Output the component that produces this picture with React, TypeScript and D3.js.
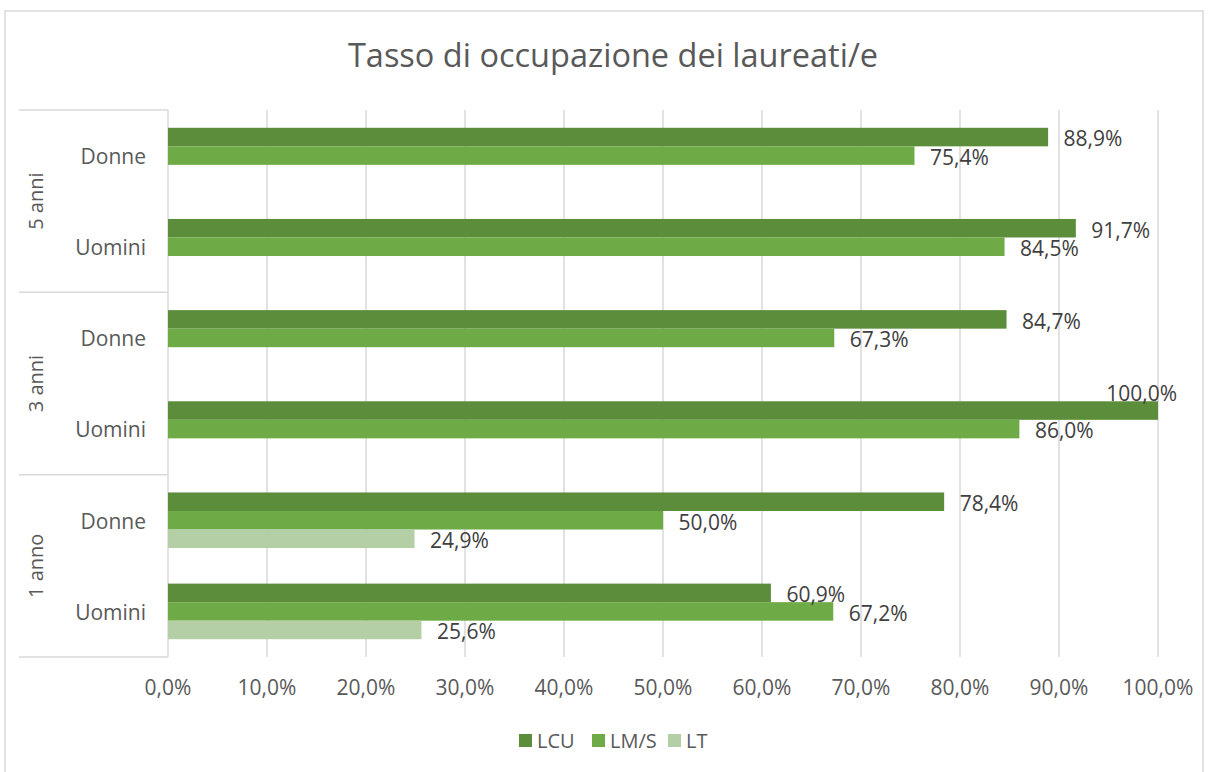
import { useMemo } from "react";
import * as d3 from "d3";

// chart data (percent values)
const groups = ["5 anni", "3 anni", "1 anno"];
const genders = ["Donne", "Uomini"];
const seriesNames = ["LCU", "LM/S", "LT"];
const seriesColors = ["#5b8d3a", "#6eab46", "#b4cea6"];

const lcuValues = [88.9, 91.7, 84.7, 100.0, 78.4, 60.9];
const lmsValues = [75.4, 84.5, 67.3, 86.0, 50.0, 67.2];
const ltValues: (number | null)[] = [null, null, null, null, 24.9, 25.6];

const xTicks = [0, 10, 20, 30, 40, 50, 60, 70, 80, 90, 100];
const title = "Tasso di occupazione dei laureati/e";

const W = 1213;
const H = 772;
const FONT = "'Open Sans', sans-serif";
const fmt = (v: number) => v.toFixed(1).replace(".", ",") + "%";

export default function App() {
    const margin = { left: 168, right: 1158, top: 110, bottom: 657 };

    // one row per group/gender pair, top to bottom
    const rows = useMemo(
        () =>
            groups.flatMap((g) => genders.map((s) => ({ key: g + "|" + s, group: g, gender: s }))),
        []
    );
    const series = [lcuValues, lmsValues, ltValues];

    const xScale = useMemo(
        () => d3.scaleLinear().domain([0, 100]).range([margin.left, margin.right]),
        []
    );
    const yScale = useMemo(
        () =>
            d3
                .scaleBand<string>()
                .domain(rows.map((r) => r.key))
                .range([margin.top, margin.bottom])
                .padding(0),
        [rows]
    );
    const inner = useMemo(
        () =>
            d3
                .scaleBand<string>()
                .domain(seriesNames)
                .range([0, yScale.bandwidth()])
                .paddingInner(0)
                .paddingOuter(0.96),
        [yScale]
    );

    const groupHeight = yScale.bandwidth() * genders.length;

    return (
        <svg
            width={W}
            height={H}
            style={{ position: "absolute", left: 0, top: 0, background: "#fff" }}
            fontFamily={FONT}
        >
            {/* chart border */}
            <rect x={5} y={11} width={1198} height={800} fill="#fff" stroke="#d9d9d9" strokeWidth={1.5} />

            <text x={613} y={67} textAnchor="middle" fontSize={32.5} fill="#595959">
                {title}
            </text>

            {/* gridlines */}
            {xTicks.slice(1).map((t) => (
                <line
                    key={t}
                    x1={xScale(t)}
                    x2={xScale(t)}
                    y1={margin.top}
                    y2={margin.bottom}
                    stroke="#d9d9d9"
                    strokeWidth={1.5}
                />
            ))}

            {/* category axis with group boxes */}
            <line x1={margin.left} x2={margin.left} y1={margin.top} y2={margin.bottom} stroke="#d9d9d9" strokeWidth={1.5} />
            {groups.map((g, i) => {
                const y0 = margin.top + i * groupHeight;
                return (
                    <g key={g}>
                        <line x1={19} x2={margin.left} y1={y0} y2={y0} stroke="#d9d9d9" strokeWidth={1.5} />
                        <text
                            transform={`translate(36,${y0 + groupHeight / 2}) rotate(-90)`}
                            textAnchor="middle"
                            dy="0.35em"
                            fontSize={20}
                            fill="#595959"
                        >
                            {g}
                        </text>
                    </g>
                );
            })}
            <line x1={19} x2={margin.left} y1={margin.bottom} y2={margin.bottom} stroke="#d9d9d9" strokeWidth={1.5} />

            {rows.map((r) => (
                <text
                    key={r.key}
                    x={146}
                    y={(yScale(r.key) ?? 0) + yScale.bandwidth() / 2 + 1}
                    textAnchor="end"
                    dy="0.35em"
                    fontSize={21}
                    fill="#595959"
                >
                    {r.gender}
                </text>
            ))}

            {/* bars */}
            {series.map((vals, si) =>
                vals.map((v, ri) => {
                    if (v == null) return null;
                    const y = (yScale(rows[ri].key) ?? 0) + (inner(seriesNames[si]) ?? 0);
                    return (
                        <rect
                            key={si + "-" + ri}
                            x={xScale(0)}
                            y={y}
                            width={xScale(v) - xScale(0)}
                            height={inner.bandwidth()}
                            fill={seriesColors[si]}
                        />
                    );
                })
            )}

            {/* data labels */}
            {series.map((vals, si) =>
                vals.map((v, ri) => {
                    if (v == null) return null;
                    const y = (yScale(rows[ri].key) ?? 0) + (inner(seriesNames[si]) ?? 0);
                    const full = v >= 100;
                    return (
                        <text
                            key={"l" + si + "-" + ri}
                            x={full ? xScale(v) + 19 : xScale(v) + 15.5}
                            y={full ? y - 8 : y + inner.bandwidth() / 2 + 2}
                            textAnchor={full ? "end" : "start"}
                            dy="0.35em"
                            fontSize={21}
                            fill="#404040"
                        >
                            {fmt(v)}
                        </text>
                    );
                })
            )}

            {/* x axis tick labels */}
            {xTicks.map((t) => (
                <text key={"t" + t} x={xScale(t)} y={688} textAnchor="middle" dy="0.35em" fontSize={21} fill="#595959">
                    {fmt(t)}
                </text>
            ))}

            {/* legend */}
            {(() => {
                const starts = [519, 592, 668];
                return seriesNames.map((n, i) => (
                    <g key={n} transform={`translate(${starts[i]},734)`}>
                        <rect width={13} height={13} fill={seriesColors[i]} />
                        <text x={18} y={6.5} dy="0.35em" fontSize={20} fill="#595959">
                            {n}
                        </text>
                    </g>
                ));
            })()}
        </svg>
    );
}
